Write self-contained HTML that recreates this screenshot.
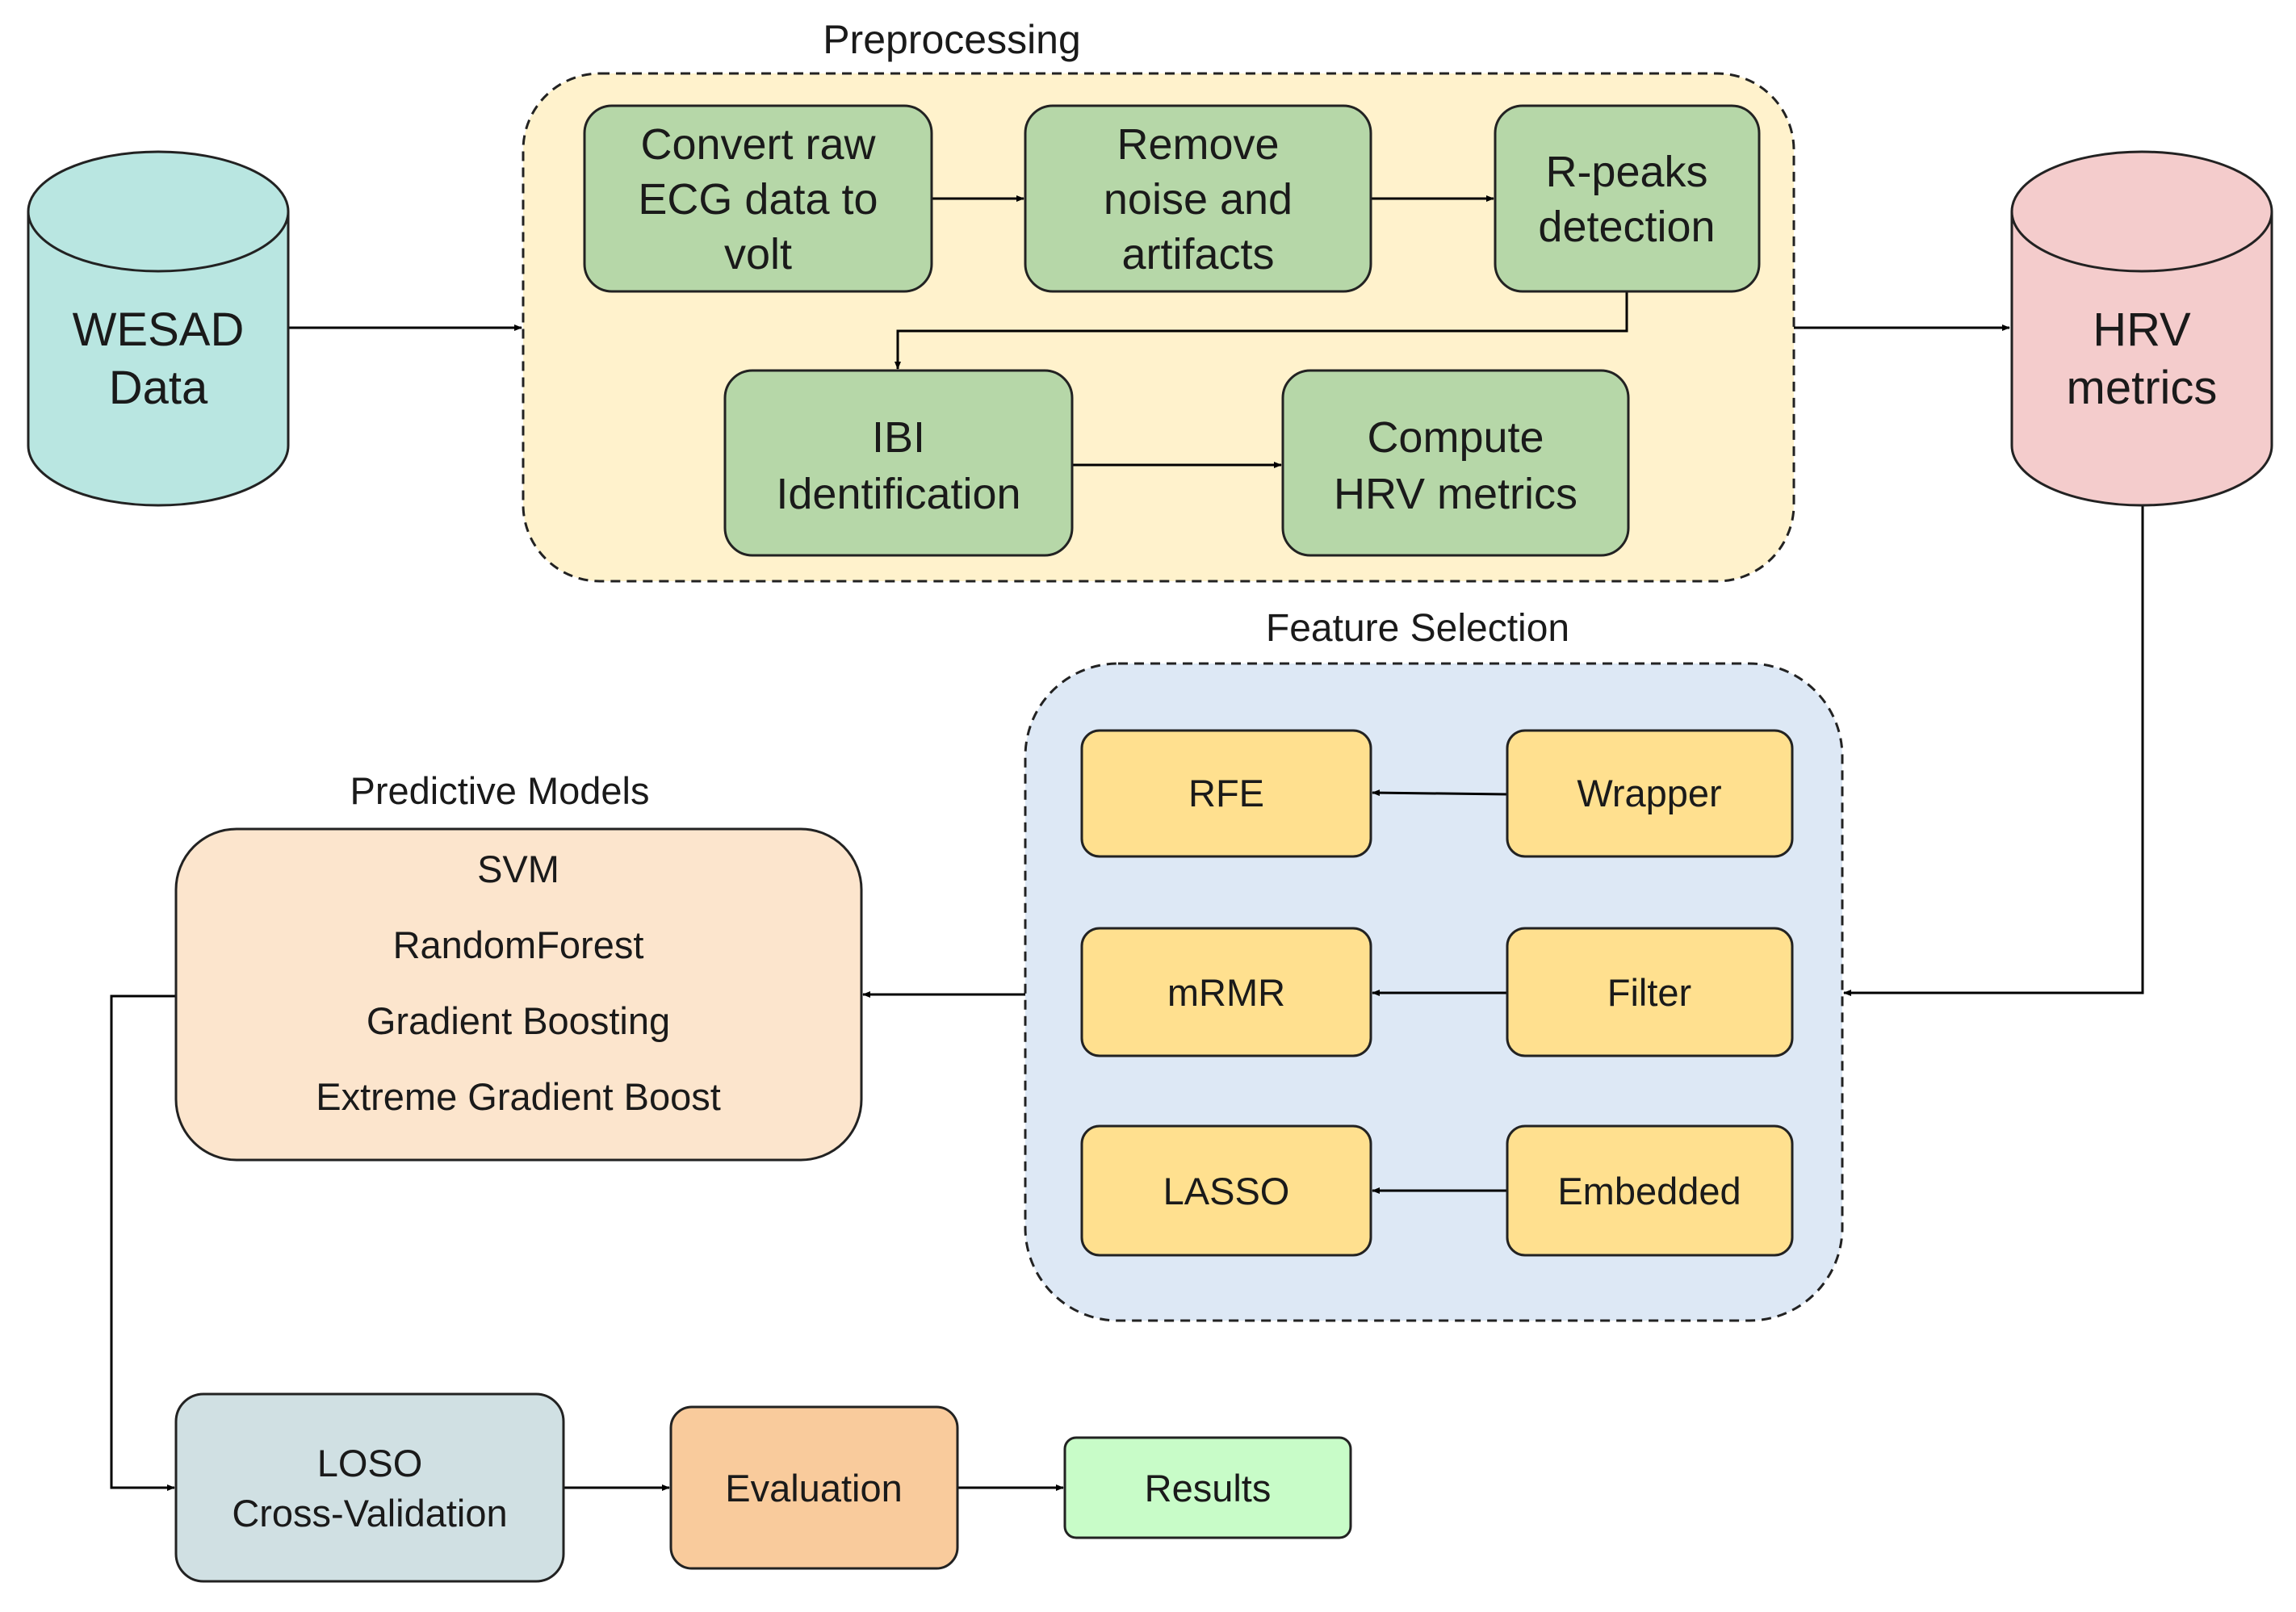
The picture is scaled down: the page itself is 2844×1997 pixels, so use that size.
<!DOCTYPE html>
<html><head><meta charset="utf-8"><style>
html,body{margin:0;padding:0;background:#fff}
svg{display:block}
text{font-family:"Liberation Sans",Arial,sans-serif;fill:#1a1a1a;text-anchor:middle}
</style></head><body>
<svg width="2844" height="1997" viewBox="0 0 2844 1997" xmlns="http://www.w3.org/2000/svg">
<defs>
<marker id="a" markerWidth="10" markerHeight="10" refX="9" refY="5" orient="auto" markerUnits="userSpaceOnUse">
<path d="M0,1 L10,5 L0,9 Z" fill="#000"/></marker>
</defs>
<rect width="2844" height="1997" fill="#fff"/>

<!-- Preprocessing container -->
<text x="1179" y="66" font-size="50">Preprocessing</text>
<rect x="648" y="91" width="1574" height="629" rx="95" fill="#fff2cc" stroke="#222" stroke-width="3" stroke-dasharray="12,8"/>

<!-- Feature selection container -->
<text x="1756" y="794" font-size="48">Feature Selection</text>
<rect x="1270" y="822" width="1012" height="814" rx="115" fill="#dde8f5" stroke="#222" stroke-width="3" stroke-dasharray="12,8"/>

<!-- connectors -->
<g stroke="#000" stroke-width="3" fill="none">
<line x1="357" y1="406" x2="646" y2="406" marker-end="url(#a)"/>
<line x1="1154" y1="246" x2="1268" y2="246" marker-end="url(#a)"/>
<line x1="1698" y1="246" x2="1850" y2="246" marker-end="url(#a)"/>
<polyline points="2015,361 2015,410 1112,410 1112,457" marker-end="url(#a)"/>
<line x1="1328" y1="576" x2="1587" y2="576" marker-end="url(#a)"/>
<line x1="2222" y1="406" x2="2489" y2="406" marker-end="url(#a)"/>
<polyline points="2654,626 2654,1230 2284,1230" marker-end="url(#a)"/>
<line x1="1867" y1="984" x2="1700" y2="982" marker-end="url(#a)"/>
<line x1="1867" y1="1230" x2="1700" y2="1230" marker-end="url(#a)"/>
<line x1="1867" y1="1475" x2="1700" y2="1475" marker-end="url(#a)"/>
<line x1="1270" y1="1232" x2="1069" y2="1232" marker-end="url(#a)"/>
<polyline points="218,1234 138,1234 138,1843 216,1843" marker-end="url(#a)"/>
<line x1="698" y1="1843" x2="829" y2="1843" marker-end="url(#a)"/>
<line x1="1186" y1="1843" x2="1317" y2="1843" marker-end="url(#a)"/>
</g>

<!-- cylinders -->
<g stroke="#222" stroke-width="3">
<path d="M35,262 L35,552 A161,74 0 0 0 357,552 L357,262" fill="#b9e6e1"/>
<ellipse cx="196" cy="262" rx="161" ry="74" fill="#b9e6e1"/>
<path d="M2492,262 L2492,552 A161,74 0 0 0 2814,552 L2814,262" fill="#f4cccc"/>
<ellipse cx="2653" cy="262" rx="161" ry="74" fill="#f4cccc"/>
</g>
<text x="196" y="428" font-size="58">WESAD</text>
<text x="196" y="500" font-size="58">Data</text>
<text x="2653" y="428" font-size="58">HRV</text>
<text x="2653" y="500" font-size="58">metrics</text>

<!-- green boxes -->
<g fill="#b6d7a8" stroke="#222" stroke-width="3">
<rect x="724" y="131" width="430" height="230" rx="34"/>
<rect x="1270" y="131" width="428" height="230" rx="34"/>
<rect x="1852" y="131" width="327" height="230" rx="34"/>
<rect x="898" y="459" width="430" height="229" rx="34"/>
<rect x="1589" y="459" width="428" height="229" rx="34"/>
</g>
<g font-size="54">
<text x="939" y="197">Convert raw</text>
<text x="939" y="265">ECG data to</text>
<text x="939" y="333">volt</text>
<text x="1484" y="197">Remove</text>
<text x="1484" y="265">noise and</text>
<text x="1484" y="333">artifacts</text>
<text x="2015" y="231">R-peaks</text>
<text x="2015" y="299">detection</text>
<text x="1113" y="560">IBI</text>
<text x="1113" y="630">Identification</text>
<text x="1803" y="560">Compute</text>
<text x="1803" y="630">HRV metrics</text>
</g>

<!-- feature selection boxes -->
<g fill="#ffe08f" stroke="#222" stroke-width="3">
<rect x="1340" y="905" width="358" height="156" rx="22"/>
<rect x="1867" y="905" width="353" height="156" rx="22"/>
<rect x="1340" y="1150" width="358" height="158" rx="22"/>
<rect x="1867" y="1150" width="353" height="158" rx="22"/>
<rect x="1340" y="1395" width="358" height="160" rx="22"/>
<rect x="1867" y="1395" width="353" height="160" rx="22"/>
</g>
<g font-size="47">
<text x="1519" y="999">RFE</text>
<text x="2043" y="999">Wrapper</text>
<text x="1519" y="1246">mRMR</text>
<text x="2043" y="1246">Filter</text>
<text x="1519" y="1492">LASSO</text>
<text x="2043" y="1492">Embedded</text>
</g>

<!-- predictive models -->
<text x="619" y="996" font-size="47">Predictive Models</text>
<rect x="218" y="1027" width="849" height="410" rx="75" fill="#fce5cd" stroke="#222" stroke-width="3"/>
<g font-size="47">
<text x="642" y="1093">SVM</text>
<text x="642" y="1187">RandomForest</text>
<text x="642" y="1281">Gradient Boosting</text>
<text x="642" y="1375">Extreme Gradient Boost</text>
</g>

<!-- bottom row -->
<rect x="218" y="1727" width="480" height="232" rx="34" fill="#d0e0e3" stroke="#222" stroke-width="3"/>
<text x="458" y="1829" font-size="47">LOSO</text>
<text x="458" y="1891" font-size="47">Cross-Validation</text>
<rect x="831" y="1743" width="355" height="200" rx="26" fill="#f9cb9c" stroke="#222" stroke-width="3"/>
<text x="1008" y="1860" font-size="47">Evaluation</text>
<rect x="1319" y="1781" width="354" height="124" rx="14" fill="#c8fcc8" stroke="#222" stroke-width="3"/>
<text x="1496" y="1860" font-size="47">Results</text>
</svg>
</body></html>
